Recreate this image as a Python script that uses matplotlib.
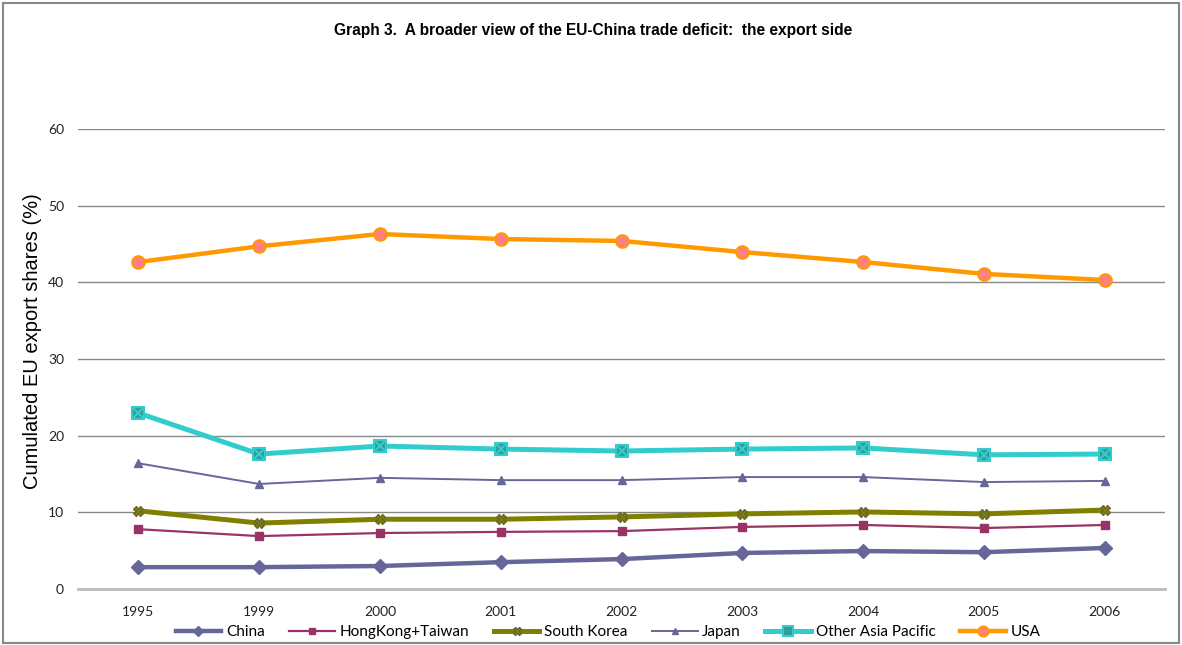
import numpy as np
import matplotlib
matplotlib.use("Agg")
import matplotlib.pyplot as plt
from matplotlib.patches import Rectangle

years = ["1995", "1999", "2000", "2001", "2002", "2003", "2004", "2005", "2006"]
china = [2.85, 2.85, 3.0, 3.5, 3.9, 4.7, 4.95, 4.8, 5.35]
hk_taiwan = [7.8, 6.9, 7.3, 7.45, 7.55, 8.1, 8.35, 7.95, 8.35]
south_korea = [10.2, 8.6, 9.1, 9.1, 9.4, 9.8, 10.05, 9.8, 10.3]
japan = [16.4, 13.7, 14.5, 14.2, 14.2, 14.6, 14.6, 13.95, 14.1]
other_asia = [22.95, 17.6, 18.65, 18.25, 18.0, 18.25, 18.4, 17.5, 17.6]
usa = [42.65, 44.7, 46.3, 45.65, 45.4, 43.95, 42.65, 41.1, 40.3]

fig = plt.figure(figsize=(11.82, 6.45), dpi=100)
ax = fig.add_axes([78 / 1182, 1 - 589 / 645, (1165 - 78) / 1182, (589 - 129) / 645])

x = np.arange(len(years))

ax.plot(x, china, color="#666699", lw=3.2, marker="D", ms=7, mfc="#666699", mec="#666699", label="China", zorder=3)
ax.plot(x, hk_taiwan, color="#993366", lw=1.6, marker="s", ms=5.5, mfc="#993366", mec="#993366", label="HongKong+Taiwan", zorder=3)
ax.plot(x, south_korea, color="#808000", lw=3.6, marker="X", ms=7, mfc="#808000", mec="#666633", label="South Korea", zorder=3)
ax.plot(x, japan, color="#666699", lw=1.4, marker="^", ms=6, mfc="#666699", mec="#666699", label="Japan", zorder=3)
ax.plot(x, other_asia, color="#33CCCC", lw=3.6, marker="s", ms=9, mfc="#339999", mec="#33CCCC", mew=1.5, label="Other Asia Pacific", zorder=3)
ax.plot(x, other_asia, ls="none", marker="x", ms=7, mec="#33CCCC", mew=1.5, zorder=4)
ax.plot(x, usa, color="#FF9900", lw=3.2, marker="o", ms=9, mfc="#FF8080", mec="#FF9900", mew=1.5, label="USA", zorder=3)

ax.set_xlim(-0.5, len(years) - 0.5)
ax.set_ylim(0, 60)
ax.set_yticks(range(0, 61, 10))
ax.set_xticks(x)
ax.set_xticklabels(years)
ax.yaxis.grid(True, color="#888888", lw=1)
ax.set_axisbelow(True)
for s in ["top", "right", "left"]:
    ax.spines[s].set_visible(False)
ax.spines["bottom"].set_color("#BBBBBB")
ax.spines["bottom"].set_linewidth(2)
ax.tick_params(length=0, labelsize=10, pad=12)
for lab in ax.get_xticklabels() + ax.get_yticklabels():
    lab.set_family(["Lato", "DejaVu Sans"])
    lab.set_color("#222222")
ax.tick_params(axis="y", pad=10)

fig.text(33 / 1182, 1 - 341 / 645, "Cumulated EU export shares (%)", rotation=90,
         ha="center", va="center", fontsize=14.5, family="Liberation Sans")

fig.text(593 / 1182, 1 - 30 / 645, "Graph 3.  A broader view of the EU-China trade deficit:  the export side",
         ha="center", va="center", fontsize=11.2, fontweight="bold", family="Liberation Sans")

leg = fig.legend(loc="center", bbox_to_anchor=(608 / 1182, 1 - 632 / 645), ncol=6, frameon=False,
                 prop={"family": "Lato", "size": 11}, handlelength=3.0, columnspacing=1.6,
                 handletextpad=0.3, markerscale=0.8)

fig.add_artist(Rectangle((3 / 1182, 2 / 645), 1176 / 1182, 640 / 645, transform=fig.transFigure,
                         fill=False, edgecolor="#888888", lw=1.5))

fig.savefig("out.png", dpi=100)
